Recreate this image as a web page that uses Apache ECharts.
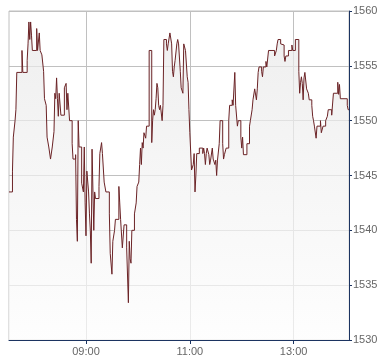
<!DOCTYPE html>
<html><head><meta charset="utf-8">
<script src="https://cdn.jsdelivr.net/npm/echarts@6/dist/echarts.min.js"></script>
<style>html,body{margin:0;padding:0;background:#fff}#c{width:390px;height:364px}</style>
</head><body><div id="c"></div>
<script>
// minute of day for each price change
const minutes = [451,455,456,458,459,460,466,467,472,473,474,475,476,477,478,483,484,486,487,489,491,492,494,495,497,499,501,503,504,505,506,507,508,509,511,515,517,518,519,521,524,525,528,529,530,531,532,535,537,538,539,540,541,543,544,545,546,547,549,550,551,555,556,558,559,561,563,567,568,570,571,573,574,578,579,580,582,584,587,589,590,591,592,593,596,598,599,601,602,603,604,605,606,607,609,610,613,616,617,618,619,620,621,622,623,624,625,626,628,629,630,633,634,635,637,639,640,641,642,643,645,646,647,649,650,652,653,655,657,658,659,660,662,664,665,666,667,668,671,675,676,677,678,679,680,682,683,684,686,687,689,690,691,692,694,695,698,699,700,702,705,706,709,710,712,713,715,716,719,720,721,722,726,729,730,732,733,735,737,738,739,740,743,744,745,748,749,751,758,760,761,762,765,766,769,770,771,774,778,779,782,786,787,788,789,790,791,792,793,795,797,798,801,802,803,804,806,807,811,812,814,817,819,820,824,826,831,832,833,834,842,843,844];
const prices = [1543.5,1545.4,1548.5,1550.0,1551.0,1554.4,1556.4,1554.4,1555.5,1557.0,1559.0,1557.4,1559.0,1557.8,1556.4,1558.4,1556.4,1558.0,1556.4,1556.0,1554.5,1552.0,1551.4,1548.5,1547.6,1546.5,1547.6,1549.0,1552.5,1552.0,1553.9,1552.0,1550.4,1552.5,1550.5,1553.0,1553.4,1551.0,1552.5,1550.0,1547.9,1546.5,1546.9,1541.0,1539.0,1550.0,1547.6,1544.3,1543.5,1547.6,1542.5,1539.5,1545.4,1543.5,1541.5,1540.0,1537.0,1547.4,1540.0,1543.5,1542.9,1544.0,1547.0,1548.0,1547.0,1544.4,1543.5,1541.5,1537.9,1536.0,1539.0,1540.0,1541.0,1544.0,1542.5,1541.0,1538.4,1540.5,1538.4,1533.4,1539.0,1537.4,1537.0,1540.0,1541.5,1542.5,1544.0,1544.4,1546.0,1547.5,1546.0,1548.0,1547.5,1548.9,1548.4,1549.5,1556.4,1548.0,1550.0,1551.0,1550.5,1551.0,1552.0,1553.4,1553.0,1551.4,1551.0,1551.4,1550.0,1551.4,1557.4,1557.0,1556.4,1557.0,1558.0,1557.0,1554.5,1554.0,1554.9,1555.5,1557.0,1557.4,1557.0,1554.5,1553.0,1552.5,1557.0,1556.4,1554.0,1553.5,1551.0,1548.9,1545.5,1546.0,1547.0,1543.5,1545.0,1547.0,1547.5,1547.0,1547.5,1547.0,1546.0,1547.0,1547.5,1546.9,1546.0,1546.4,1547.5,1546.5,1546.0,1546.4,1545.0,1546.4,1547.9,1550.0,1547.9,1546.5,1546.9,1547.5,1550.0,1551.4,1551.9,1551.4,1554.4,1551.4,1549.5,1550.0,1548.5,1547.5,1548.5,1546.9,1547.9,1549.5,1550.0,1551.0,1551.9,1552.9,1551.9,1552.9,1554.4,1554.9,1554.5,1554.0,1554.9,1555.4,1554.9,1556.4,1555.9,1556.4,1557.0,1557.4,1557.0,1556.9,1555.9,1555.4,1555.9,1556.4,1556.9,1556.4,1557.4,1554.5,1552.5,1553.5,1554.0,1553.4,1551.9,1553.9,1554.4,1552.9,1552.5,1551.9,1551.4,1550.4,1550.0,1549.5,1548.4,1549.5,1550.0,1548.9,1549.5,1550.0,1550.4,1551.0,1550.5,1552.5,1553.5,1552.4,1553.3,1552.0,1551.4,1551.0,1551.0];
const xTickLabels = ["09:00","11:00","13:00"];
const sessionStart = "07:31", sessionEnd = "14:04";
const priceMin = 1530, priceMax = 1560, priceStep = 5;

const toMin = s => { const p = s.split(':'); return (+p[0]) * 60 + (+p[1]); };
const pad = n => (n < 10 ? '0' : '') + n;
const fmt = v => pad(Math.floor(v / 60)) + ':' + pad(v % 60);
const tickVals = xTickLabels.map(toMin);
const data = minutes.map((m, i) => [m, prices[i]]);

const navy = '#1c3461', gridc = '#c0c0c0';
const chart = echarts.init(document.getElementById('c'), null, {renderer: 'canvas'});
chart.setOption({
  animation: false,
  backgroundColor: '#fff',
  grid: {left: 9, top: 11, width: 340, height: 329, show: true, borderColor: gridc, borderWidth: 1, backgroundColor: 'transparent'},
  xAxis: {
    type: 'value', min: toMin(sessionStart), max: toMin(sessionEnd),
    axisLine: {show: true, lineStyle: {color: navy, width: 1}},
    axisTick: {show: true, length: 4, lineStyle: {color: navy}, customValues: tickVals},
    axisLabel: {customValues: tickVals, formatter: v => fmt(v), color: '#666', fontSize: 11, fontFamily: 'Liberation Sans, Arial, sans-serif', margin: 6},
    splitLine: {show: true, lineStyle: {color: gridc, width: 1}}
  },
  yAxis: {
    type: 'value', position: 'right', min: priceMin, max: priceMax, interval: priceStep,
    axisLine: {show: true, lineStyle: {color: navy, width: 1}},
    axisTick: {show: true, length: 3, lineStyle: {color: navy}},
    axisLabel: {formatter: v => String(v), color: '#666', fontSize: 11, fontFamily: 'Liberation Sans, Arial, sans-serif', margin: 4},
    splitLine: {show: true, lineStyle: {color: gridc, width: 1}}
  },
  series: [{
    type: 'line', step: 'end', data: data, showSymbol: false, symbol: 'none',
    lineStyle: {color: '#6b2326', width: 1},
    areaStyle: {color: new echarts.graphic.LinearGradient(0, 0, 0, 1, [
      {offset: 0, color: '#e8e8e8'}, {offset: 1, color: '#fdfdfd'}
    ])}
  }]
});
</script></body></html>
